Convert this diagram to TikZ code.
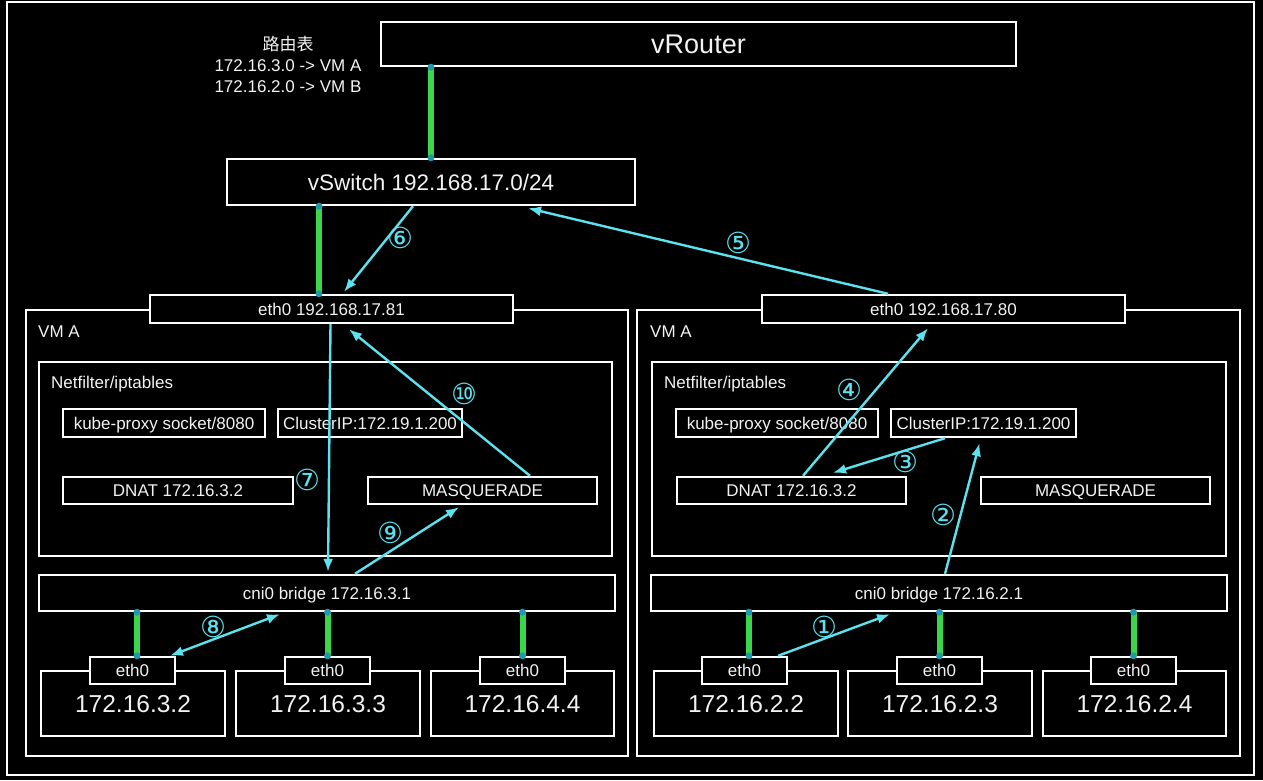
\documentclass[tikz,border=0pt]{standalone}
\usepackage{fontspec}
\setmainfont{Liberation Sans}
\newfontfamily\cjkf{Noto Sans CJK SC}
\newfontfamily\symf{DejaVu Sans}
\usetikzlibrary{arrows.meta,calc}
\definecolor{flowcyan}{HTML}{5CE1EE}
\definecolor{linkgreen}{HTML}{3BD64B}
\definecolor{dotteal}{HTML}{1E9AAA}
\definecolor{txt}{HTML}{F2F2F2}
\newcommand{\myfs}{\fontsize{17}{21}\selectfont}
\newcommand{\myfbig}{\fontsize{27}{30}\selectfont}
\newcommand{\myfmid}{\fontsize{22.5}{26}\selectfont}
\newcommand{\myfpod}{\fontsize{24.5}{28}\selectfont}
\newcommand{\myfcirc}{\symf\fontsize{29}{30}\selectfont}
\newcommand{\glk}[2]{\draw[glink] (#1) -- (#2); \fill[dotteal] (#1) circle[radius=3.5pt] (#2) circle[radius=3.5pt];}
\begin{document}
\begin{tikzpicture}[x=1pt,y=-1pt,
  box/.style={draw=white, line width=2.4pt, fill=black, text=txt, inner sep=0pt, font=\myfs, text depth=0pt},
  area/.style={draw=white, line width=2.4pt, inner sep=0pt},
  lbl/.style={text=txt, font=\myfs, inner sep=0pt, anchor=west},
  glink/.style={draw=linkgreen, line width=6pt},
  flow/.style={draw=flowcyan, line width=2.4pt, -{Latex[length=13pt,width=10pt]}},
  num/.style={text=flowcyan, font=\myfcirc, inner sep=0pt}]
\fill[black] (0,0) rectangle (1263,780);
\useasboundingbox (0,0) rectangle (1263,780);
\node[area, minimum width=1247pt, minimum height=773pt] (frame) at (630.5,388.5) {};

% top
\node[box, font=\myfbig, minimum width=635pt, minimum height=44pt] (vRouter) at (698.5,44) {vRouter};
\node[text=txt, font=\myfs, align=center, inner sep=0pt] (rt) at (288,64) {{\cjkf 路由表}\\172.16.3.0 -> VM A\\172.16.2.0 -> VM B};
\node[box, font=\myfmid, minimum width=408pt, minimum height=46pt] (vSwitch) at (431,182) {vSwitch 192.168.17.0/24};

% VM boxes
\node[area, minimum width=602pt, minimum height=446pt] (vmL) at (327,533) {};
\node[area, minimum width=603pt, minimum height=446pt] (vmR) at (938.5,533) {};
\node[lbl] (vmLl) at (38,332) {VM A};
\node[lbl] (vmRl) at (650,332) {VM A};
\node[area, minimum width=573pt, minimum height=194pt] (nfL) at (325.5,459) {};
\node[area, minimum width=574pt, minimum height=194pt] (nfR) at (939,459) {};
\node[lbl] (nfLl) at (51,384) {Netfilter/iptables};
\node[lbl] (nfRl) at (664,384) {Netfilter/iptables};

% eth0 of VMs
\node[box, minimum width=363pt, minimum height=28pt] (ethL) at (331.5,309) {eth0 192.168.17.81};
\node[box, minimum width=363pt, minimum height=28pt] (ethR) at (943.5,309) {eth0 192.168.17.80};

% netfilter contents left
\node[box, minimum width=202pt, minimum height=28pt] (kubeL) at (164,423) {kube-proxy socket/8080};
\node[box, minimum width=184pt, minimum height=28pt] (cipL) at (370,423) {ClusterIP:172.19.1.200};
\node[box, minimum width=230pt, minimum height=27pt] (dnatL) at (178,490.5) {DNAT 172.16.3.2};
\node[box, minimum width=229pt, minimum height=27pt] (masqL) at (482.5,490.5) {MASQUERADE};
% netfilter contents right
\node[box, minimum width=202pt, minimum height=28pt] (kubeR) at (777,423) {kube-proxy socket/8080};
\node[box, minimum width=185pt, minimum height=28pt] (cipR) at (983.5,423) {ClusterIP:172.19.1.200};
\node[box, minimum width=229pt, minimum height=27pt] (dnatR) at (791.5,490.5) {DNAT 172.16.3.2};
\node[box, minimum width=229pt, minimum height=27pt] (masqR) at (1095.5,490.5) {MASQUERADE};

% bridges
\node[box, minimum width=576pt, minimum height=36pt] (cniL) at (327,593) {cni0 bridge 172.16.3.1};
\node[box, minimum width=576pt, minimum height=36pt] (cniR) at (939,593) {cni0 bridge 172.16.2.1};

% pods left
\node[box, font=\myfpod, minimum width=184pt, minimum height=65pt] (podL1) at (133,703.5) {172.16.3.2};
\node[box, font=\myfpod, minimum width=184pt, minimum height=65pt] (podL2) at (328,703.5) {172.16.3.3};
\node[box, font=\myfpod, minimum width=183pt, minimum height=65pt] (podL3) at (522.5,703.5) {172.16.4.4};
\node[box, minimum width=85pt, minimum height=27pt] (ethL1) at (132.5,670.5) {eth0};
\node[box, minimum width=85pt, minimum height=27pt] (ethL2) at (327.5,670.5) {eth0};
\node[box, minimum width=85pt, minimum height=27pt] (ethL3) at (522.5,670.5) {eth0};
% pods right
\node[box, font=\myfpod, minimum width=184pt, minimum height=65pt] (podR1) at (746,703.5) {172.16.2.2};
\node[box, font=\myfpod, minimum width=184pt, minimum height=65pt] (podR2) at (940,703.5) {172.16.2.3};
\node[box, font=\myfpod, minimum width=183pt, minimum height=65pt] (podR3) at (1134.5,703.5) {172.16.2.4};
\node[box, minimum width=85pt, minimum height=27pt] (ethR1) at (744.5,670.5) {eth0};
\node[box, minimum width=85pt, minimum height=27pt] (ethR2) at (939.5,670.5) {eth0};
\node[box, minimum width=85pt, minimum height=27pt] (ethR3) at (1133.5,670.5) {eth0};

% green links
\glk{vSwitch.north |- vRouter.south}{vSwitch.north}
\glk{[xshift=-12.5pt]ethL.north |- vSwitch.south}{[xshift=-12.5pt]ethL.north}
\glk{[xshift=4.5pt]ethL1.north |- cniL.south}{[xshift=4.5pt]ethL1.north}
\glk{ethL2.north |- cniL.south}{ethL2.north}
\glk{ethL3.north |- cniL.south}{ethL3.north}
\glk{[xshift=4.5pt]ethR1.north |- cniR.south}{[xshift=4.5pt]ethR1.north}
\glk{ethR2.north |- cniR.south}{ethR2.north}
\glk{ethR3.north |- cniR.south}{ethR3.north}

% flows
\draw[flow] ([xshift=33.5pt]ethR1.north) -- ([xshift=-49pt,yshift=-2pt]cniR.south);
\draw[flow] ([xshift=6pt]cniR.north) -- ([xshift=-4pt,yshift=-5pt]cipR.south);
\draw[flow] ([xshift=-38.5pt]cipR.south) -- ([xshift=41.5pt,yshift=3pt]dnatR.north);
\draw[flow] ([xshift=11.5pt]dnatR.north) -- ([xshift=-15.5pt,yshift=-4pt]ethR.south);
\draw[flow] ([xshift=-55.5pt]ethR.north) -- ([xshift=97pt,yshift=-2pt]vSwitch.south);
\draw[flow] ([xshift=-18pt]vSwitch.south) -- ([xshift=12.5pt,yshift=2pt]ethL.north);
\draw[flow] ([xshift=-1pt]ethL.south) -- ([xshift=1pt,yshift=2pt]cniL.north);
\draw[flow, {Latex[length=13pt,width=10pt]}-{Latex[length=13pt,width=10pt]}] ([xshift=37.5pt]ethL1.north) -- ([xshift=-47pt,yshift=-2pt]cniL.south);
\draw[flow] ([xshift=28pt]cniL.north) -- ([xshift=-23.5pt,yshift=-2pt]masqL.south);
\draw[flow] ([xshift=47.5pt]masqL.north) -- ([xshift=17.5pt,yshift=-5pt]ethL.south);

% step numbers
\node[num] (n1) at (824,627) {①};
\node[num] (n2) at (943,515) {②};
\node[num] (n3) at (905,462) {③};
\node[num] (n4) at (849,390) {④};
\node[num] (n5) at (738,243) {⑤};
\node[num] (n6) at (400,238) {⑥};
\node[num] (n7) at (307,480) {⑦};
\node[num] (n8) at (213,627) {⑧};
\node[num] (n9) at (390,533) {⑨};
\node[num] (n10) at (464,394) {⑩};
\end{tikzpicture}
\end{document}
